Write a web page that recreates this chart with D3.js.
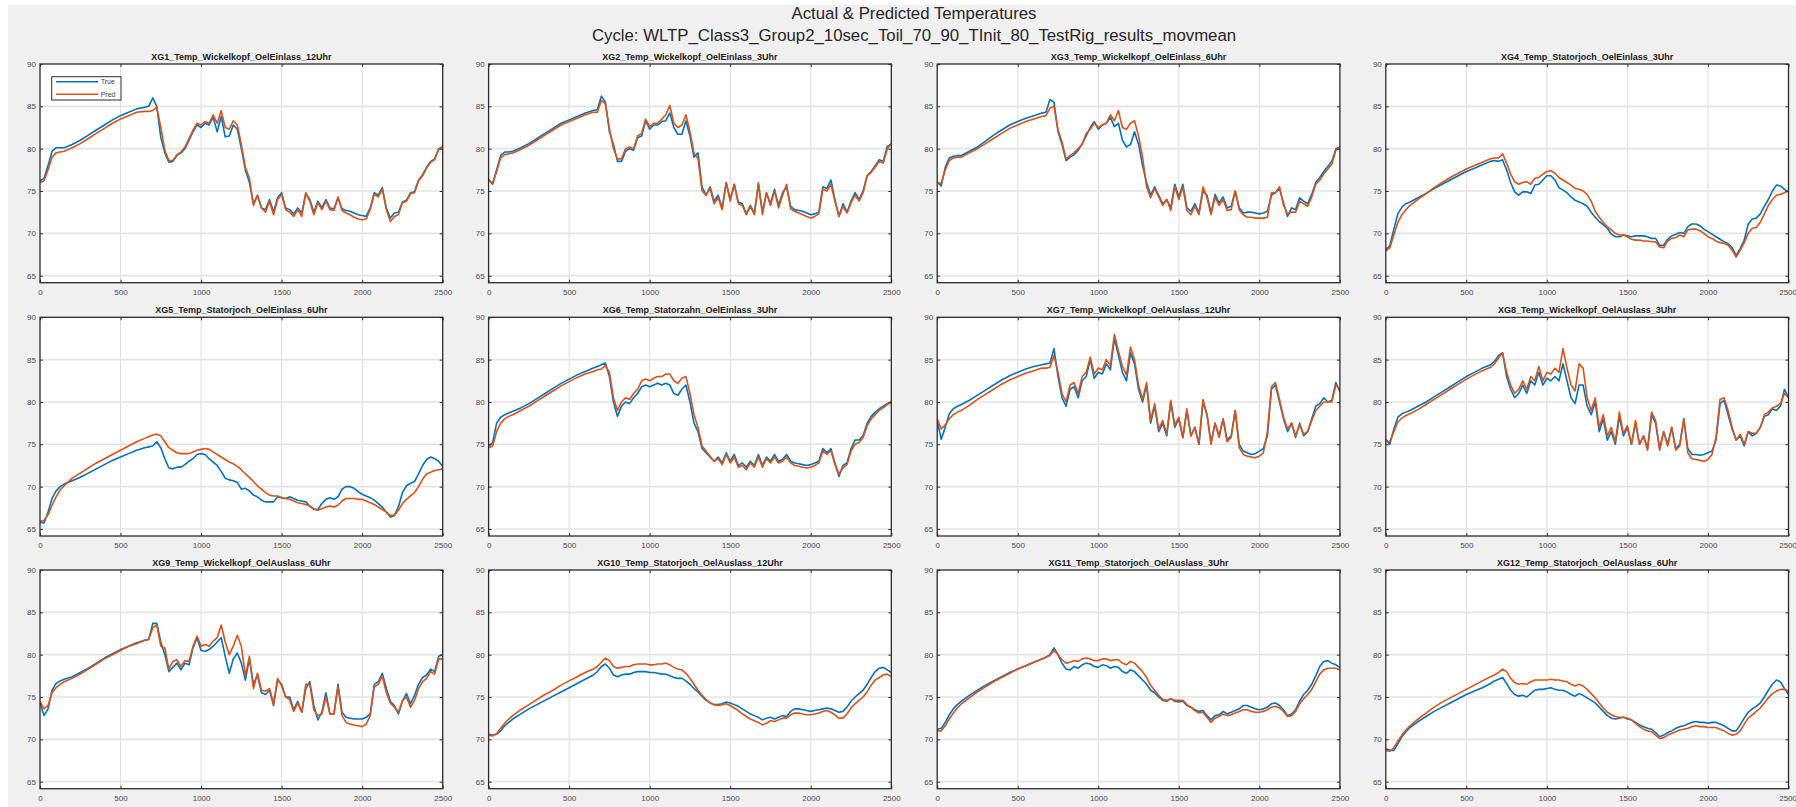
<!DOCTYPE html>
<html>
<head>
<meta charset="utf-8">
<script src="https://cdn.jsdelivr.net/npm/d3@7"></script>
<style>
  body { margin: 0; background: #fff; }
  text { font-family: "Liberation Sans", Arial, Helvetica, sans-serif; }
</style>
</head>
<body>
<div id="fig"></div>
<script>
// figure titles
var figTitle = ["Actual & Predicted Temperatures",
  "Cycle: WLTP_Class3_Group2_10sec_Toil_70_90_TInit_80_TestRig_results_movmean"];

var panelTitles = [
  "XG1_Temp_Wickelkopf_OelEinlass_12Uhr", "XG2_Temp_Wickelkopf_OelEinlass_3Uhr",
  "XG3_Temp_Wickelkopf_OelEinlass_6Uhr", "XG4_Temp_Statorjoch_OelEinlass_3Uhr",
  "XG5_Temp_Statorjoch_OelEinlass_6Uhr", "XG6_Temp_Statorzahn_OelEinlass_3Uhr",
  "XG7_Temp_Wickelkopf_OelAuslass_12Uhr", "XG8_Temp_Wickelkopf_OelAuslass_3Uhr",
  "XG9_Temp_Wickelkopf_OelAuslass_6Uhr", "XG10_Temp_Statorjoch_OelAuslass_12Uhr",
  "XG11_Temp_Statorjoch_OelAuslass_3Uhr", "XG12_Temp_Statorjoch_OelAuslass_6Uhr"];

var seriesNames = ["True", "Pred"];
var xTicks = [0, 500, 1000, 1500, 2000, 2500];
var yTicks = [65, 70, 75, 80, 85, 90];

// sample times (s), shared by all panels
var timeS = [0,25,50,75,100,125,150,
  200,250,300,350,400,450,500,550,600,
  650,675,700,725,750,775,800,825,850,875,900,925,950,975,1000,
  1025,1050,1075,1100,1125,1150,1175,1200,1225,1250,1275,1300,1325,1350,1375,1400,1425,1450,1475,1500,
  1525,1550,1575,1600,1625,1650,1675,1700,1725,1750,1775,1800,1825,1850,1875,1900,1925,1950,1975,2000,
  2025,2050,2075,2100,2125,2150,2175,2200,2225,2250,2275,2300,2325,2350,2375,2400,2425,2450,2475,2500];

// temperatures (degC)
var xg1True = [76.2,76.5,78.0,79.7,80.1,80.1,80.1,
  80.5,81.0,81.6,82.2,82.8,83.4,83.9,84.3,84.7,
  84.9,85.0,86.0,85.0,81.3,79.5,78.4,78.5,79.2,79.5,80.0,81.0,82.0,82.8,82.5,
  83.0,82.8,83.7,82.0,83.8,81.4,81.5,82.8,82.3,80.0,77.5,76.0,73.5,74.5,73.0,72.8,74.0,72.5,74.2,74.8,
  73.0,72.8,72.3,73.0,72.4,74.7,74.0,72.5,73.8,73.0,74.0,73.0,72.9,74.2,72.9,72.7,72.6,72.4,72.2,72.1,
  72.0,73.0,74.8,74.5,75.4,73.0,71.8,72.4,72.5,73.7,73.9,74.8,74.9,76.3,76.9,77.8,78.5,78.8,80.0,80.2];
var xg1Pred = [76.0,76.2,77.5,79.0,79.5,79.6,79.7,
  80.1,80.6,81.2,81.8,82.4,83.0,83.5,83.9,84.3,
  84.4,84.4,84.5,84.9,82.5,79.8,78.6,78.6,79.3,79.6,80.2,81.2,82.2,83.0,82.8,
  83.2,83.0,84.0,83.0,84.5,82.5,82.3,83.3,82.8,80.5,77.8,76.5,73.3,74.5,73.0,72.5,73.8,72.2,74.0,74.6,
  72.8,72.5,72.0,72.8,72.0,74.8,73.8,72.2,73.6,72.8,73.8,72.8,72.7,74.3,72.7,72.4,72.2,71.9,71.7,71.6,
  71.7,72.8,74.6,74.3,75.2,72.8,71.4,72.0,72.2,73.6,73.8,74.7,74.8,76.2,76.8,77.7,78.4,78.7,79.9,80.3];

var xg2True = [76.4,75.8,77.5,79.2,79.6,79.6,79.7,
  80.1,80.6,81.2,81.8,82.4,83.0,83.4,83.8,84.2,
  84.5,84.6,86.2,85.5,82.0,80.5,78.5,78.5,79.7,80.0,79.8,81.3,81.5,83.3,82.3,
  82.8,82.8,83.2,83.3,84.2,82.5,81.7,81.7,83.3,81.5,79.0,79.5,75.5,74.5,75.5,73.8,74.5,73.0,76.0,74.0,
  75.8,73.7,73.5,72.3,73.3,72.4,75.8,72.5,74.8,73.5,75.2,73.3,74.8,75.5,73.2,72.8,72.7,72.6,72.4,72.2,
  72.3,72.5,75.5,75.3,76.3,74.0,72.0,73.5,72.5,73.8,74.8,74.0,75.0,76.8,77.3,78.0,78.7,78.5,80.3,80.5];
var xg2Pred = [76.3,75.9,77.3,78.9,79.3,79.4,79.5,
  79.9,80.4,81.0,81.6,82.2,82.8,83.2,83.6,84.0,
  84.3,84.3,85.7,85.3,82.4,80.0,78.8,78.8,80.0,80.2,80.0,81.5,81.8,83.5,82.6,
  83.0,83.0,83.5,84.0,85.1,83.0,82.5,82.8,84.0,82.0,79.5,78.8,75.0,74.5,75.3,73.5,74.2,72.8,76.0,73.8,
  75.8,73.5,73.3,72.2,73.2,72.2,76.0,72.2,74.8,73.3,75.0,73.0,74.5,75.8,72.9,72.6,72.4,72.2,72.0,71.8,
  72.0,72.3,75.2,75.0,75.8,73.8,72.0,73.2,72.4,73.6,74.5,73.8,74.8,76.8,77.2,77.8,78.5,78.3,80.0,80.6];

var xg3True = [76.1,75.6,77.8,78.9,79.1,79.2,79.2,
  79.7,80.2,80.9,81.6,82.2,82.8,83.2,83.6,83.9,
  84.2,84.3,85.8,85.5,82.0,80.5,78.6,79.0,79.3,79.8,80.6,81.5,82.5,83.2,82.3,
  82.8,83.0,83.7,82.6,83.0,81.0,80.2,80.5,82.0,80.5,78.0,76.0,74.5,75.5,74.5,73.5,74.0,73.0,75.8,74.3,
  75.8,73.0,72.6,73.5,72.4,75.0,74.5,72.4,74.6,73.6,74.3,73.0,73.2,75.0,73.0,72.4,72.5,72.5,72.4,72.3,
  72.4,72.6,74.5,74.8,75.3,73.6,72.0,73.0,72.8,74.2,73.8,73.5,74.6,76.0,76.6,77.3,77.9,78.5,80.0,80.2];
var xg3Pred = [76.0,75.9,77.5,78.6,78.9,79.0,79.0,
  79.5,80.0,80.6,81.2,81.8,82.4,82.8,83.2,83.5,
  83.8,83.9,84.8,85.0,82.2,80.8,78.8,79.2,79.5,80.0,80.5,81.8,82.3,83.0,82.5,
  82.8,83.0,84.0,83.3,84.5,82.5,82.3,83.0,83.3,81.5,79.0,75.5,74.2,75.3,74.3,73.3,74.0,72.7,75.5,74.0,
  75.5,72.7,72.2,73.2,72.2,75.5,74.2,72.2,74.3,73.3,74.0,72.7,72.8,75.0,72.8,72.2,71.9,71.9,71.8,71.8,
  71.8,71.9,74.8,74.8,75.5,73.3,72.3,72.5,72.5,73.8,73.5,73.2,74.3,75.8,76.3,77.0,77.6,78.2,79.8,80.2];

var xg4True = [68.1,68.5,70.5,72.3,73.1,73.5,73.7,
  74.2,74.7,75.3,75.8,76.3,76.8,77.3,77.7,78.1,
  78.5,78.6,78.5,78.7,77.5,76.0,74.9,74.5,74.9,74.9,74.7,75.7,75.8,76.3,76.8,
  76.8,76.3,75.4,75.1,74.8,74.3,73.9,73.7,73.5,73.2,72.5,71.9,71.4,71.0,70.6,69.9,69.6,69.6,69.8,69.7,
  69.6,69.7,69.7,69.7,69.6,69.4,69.4,68.6,68.6,69.3,69.7,69.9,70.1,70.0,70.8,71.1,71.1,70.9,70.5,70.2,
  69.9,69.6,69.3,69.0,68.8,68.3,67.4,68.2,69.2,71.1,71.7,71.8,72.3,73.2,74.0,75.0,75.7,75.6,75.2,74.9];
var xg4Pred = [67.9,68.3,69.8,71.3,72.2,72.8,73.3,
  74.0,74.7,75.4,76.0,76.6,77.1,77.6,78.0,78.4,
  78.8,78.9,78.9,79.4,78.3,77.0,76.1,75.8,76.0,76.1,75.8,76.5,76.6,77.0,77.3,
  77.4,77.1,76.6,76.3,76.0,75.7,75.3,75.2,75.0,74.6,73.8,72.6,71.9,71.3,70.8,70.4,70.0,69.8,69.8,69.6,
  69.3,69.2,69.2,69.1,69.1,69.0,69.0,68.4,68.3,69.1,69.4,69.5,69.8,69.6,70.4,70.5,70.5,70.3,70.0,69.6,
  69.4,69.1,68.9,68.8,68.6,68.0,67.2,68.0,68.9,70.0,70.6,70.7,71.3,72.3,73.3,74.0,74.5,74.6,74.8,75.0];

var xg5True = [65.8,65.7,67.0,68.6,69.5,70.0,70.3,
  70.7,71.1,71.6,72.1,72.6,73.1,73.5,73.9,74.3,
  74.6,74.7,74.8,75.3,74.6,73.3,72.2,72.1,72.3,72.3,72.6,73.0,73.3,73.8,73.9,
  73.8,73.3,72.9,72.5,71.8,71.0,70.8,70.7,70.5,69.7,69.8,69.5,69.0,68.8,68.4,68.2,68.2,68.2,68.8,68.7,
  68.6,68.8,68.6,68.4,68.3,68.2,67.7,67.3,67.3,68.0,68.5,68.7,68.5,68.8,69.7,70.0,70.0,69.8,69.4,69.1,
  68.9,68.7,68.4,68.0,67.6,67.0,66.4,66.6,67.6,69.3,70.1,70.4,70.6,71.5,72.5,73.2,73.5,73.3,73.0,72.4];
var xg5Pred = [65.9,66.0,66.7,67.8,68.8,69.6,70.1,
  71.0,71.6,72.2,72.8,73.3,73.8,74.3,74.8,75.3,
  75.7,75.9,76.1,76.2,76.0,75.3,74.6,74.3,74.0,73.9,73.9,73.9,74.1,74.3,74.4,
  74.5,74.4,74.1,73.8,73.5,73.2,72.9,72.7,72.4,72.0,71.5,71.1,70.6,70.1,69.7,69.3,69.0,68.9,68.9,68.7,
  68.6,68.5,68.3,68.1,68.0,67.9,67.7,67.4,67.2,67.4,67.6,67.7,67.6,67.8,68.3,68.6,68.6,68.6,68.5,68.5,
  68.3,68.1,67.9,67.6,67.3,67.0,66.6,66.6,67.2,68.0,68.5,68.9,69.3,70.0,70.9,71.5,71.7,71.9,72.0,72.1];

var xg6True = [74.8,75.2,77.5,78.2,78.5,78.7,78.9,
  79.3,79.8,80.4,81.0,81.6,82.2,82.7,83.2,83.6,
  84.0,84.2,84.4,84.6,83.0,80.0,78.3,79.5,80.0,79.8,80.5,81.0,81.8,82.0,81.8,
  82.0,82.2,82.0,82.2,82.0,81.0,80.8,81.5,82.0,80.0,77.5,76.5,74.5,74.0,73.5,73.0,73.5,72.8,74.0,73.0,
  73.8,72.5,72.8,72.3,73.0,72.5,73.8,72.5,73.5,73.0,73.8,73.0,73.2,73.8,73.0,72.8,72.7,72.6,72.5,72.6,
  72.8,73.0,74.5,74.0,74.5,72.8,71.2,72.5,72.8,74.5,75.5,75.5,76.0,77.5,78.3,78.8,79.2,79.5,79.8,80.0];
var xg6Pred = [74.6,74.8,76.5,77.5,78.0,78.3,78.5,
  79.0,79.5,80.1,80.7,81.3,81.9,82.4,82.9,83.3,
  83.6,83.8,83.9,84.3,83.5,80.5,79.0,80.0,80.5,80.3,81.0,81.5,82.5,82.7,82.5,
  82.8,83.0,83.0,83.3,83.3,82.5,82.2,82.8,83.0,81.0,78.5,77.0,74.8,74.2,73.6,73.0,73.3,72.6,73.8,72.8,
  73.5,72.3,72.5,72.0,72.8,72.3,73.5,72.3,73.3,72.8,73.5,72.8,73.0,73.5,72.8,72.5,72.4,72.3,72.2,72.3,
  72.5,72.8,74.2,73.8,74.3,72.6,71.5,72.2,72.6,74.2,75.0,75.2,75.8,77.2,78.0,78.5,79.0,79.3,79.7,80.0];

var xg7True = [77.8,75.6,77.0,78.6,79.2,79.5,79.7,
  80.2,80.8,81.4,82.0,82.6,83.1,83.5,83.9,84.2,
  84.4,84.5,84.6,86.3,83.0,80.5,79.5,81.5,81.8,80.5,82.5,83.0,85.0,82.8,83.5,
  83.3,84.5,83.8,87.5,85.5,83.5,82.5,85.8,84.5,81.5,80.0,82.0,77.5,79.5,76.5,77.5,76.0,80.0,77.0,78.0,
  75.8,79.0,76.0,77.0,75.0,80.0,78.5,75.2,77.5,76.0,78.0,75.5,76.0,79.0,75.0,74.2,74.0,73.8,73.9,74.2,
  74.5,76.0,81.5,82.0,80.0,78.0,76.5,77.5,75.8,77.5,76.0,76.5,78.0,79.5,79.8,80.5,80.0,80.2,82.3,81.2];
var xg7Pred = [78.0,76.8,77.3,78.0,78.5,78.8,79.0,
  79.6,80.3,80.9,81.5,82.1,82.6,83.0,83.4,83.7,
  84.0,84.0,84.1,85.5,83.5,81.0,80.0,82.0,82.3,81.0,83.0,83.5,85.3,83.3,84.0,
  83.8,85.0,84.3,88.0,86.0,84.2,83.2,86.5,85.0,82.0,80.3,82.3,77.8,79.8,76.8,77.8,76.2,80.2,77.2,78.2,
  75.8,79.2,76.0,77.0,75.0,80.3,78.5,75.0,77.5,75.8,78.0,75.3,75.8,79.0,74.6,73.8,73.6,73.5,73.4,73.6,
  74.0,76.5,81.8,82.3,80.3,78.2,76.8,77.5,76.0,77.3,76.2,76.5,77.8,79.0,79.5,80.0,80.0,80.0,82.0,81.5];

var xg8True = [75.6,75.0,76.8,78.2,78.6,78.8,79.0,
  79.5,80.0,80.6,81.2,81.8,82.4,83.0,83.5,84.0,
  84.4,84.8,85.5,85.8,83.0,81.5,80.5,81.0,82.0,81.0,82.5,82.0,83.5,82.0,82.8,
  82.5,83.0,82.5,84.5,82.5,80.5,79.8,82.0,82.0,79.5,78.5,80.0,76.5,78.0,75.5,76.5,75.0,78.3,76.0,77.0,
  75.0,77.5,75.0,76.0,74.5,78.5,77.5,74.5,76.5,75.0,77.0,74.5,75.0,78.0,74.5,73.8,73.8,73.7,73.8,74.0,
  74.2,75.5,79.8,80.2,78.5,76.8,75.5,76.0,74.8,76.5,76.0,76.3,77.0,78.3,78.5,79.2,79.0,79.5,81.5,80.5];
var xg8Pred = [75.4,75.3,76.5,77.6,78.1,78.4,78.6,
  79.1,79.7,80.3,80.9,81.5,82.1,82.7,83.2,83.7,
  84.1,84.5,85.2,85.8,83.5,82.0,81.0,81.5,82.5,81.5,83.0,82.5,84.2,82.5,83.5,
  83.3,84.0,83.5,86.3,84.0,82.0,81.3,84.5,84.0,80.5,79.0,80.5,77.0,78.5,76.0,77.0,75.3,78.8,76.3,77.2,
  75.0,77.8,75.0,76.0,74.3,78.8,77.8,74.3,76.5,74.8,77.0,74.3,74.8,78.0,74.0,73.3,73.2,73.1,73.0,73.2,
  73.8,75.8,80.3,80.5,79.0,77.0,75.5,76.2,75.0,76.5,76.3,76.3,77.0,78.5,78.8,79.3,79.5,79.8,81.0,80.5];

var xg9True = [74.3,72.8,73.6,75.8,76.6,76.9,77.1,
  77.4,77.9,78.4,79.0,79.6,80.1,80.6,81.0,81.4,
  81.7,81.8,83.7,83.7,81.5,80.0,78.0,78.5,79.0,78.2,79.0,78.8,80.8,82.0,80.5,
  80.4,80.6,81.0,81.5,82.0,79.8,77.8,79.5,80.2,79.0,77.0,79.5,76.5,77.6,75.5,75.3,75.8,74.0,77.0,76.5,
  75.0,75.0,73.5,74.5,73.2,76.0,76.8,74.0,72.3,73.2,75.5,73.0,73.0,76.5,73.2,72.6,72.5,72.4,72.4,72.4,
  72.6,73.0,76.5,76.8,77.8,76.0,74.5,74.0,73.0,74.5,75.4,74.2,75.2,76.5,77.3,77.6,78.3,78.0,79.8,80.0];
var xg9Pred = [74.5,73.6,74.0,75.5,76.1,76.5,76.8,
  77.2,77.7,78.3,78.9,79.5,80.0,80.5,81.0,81.3,
  81.7,81.8,83.2,83.5,81.0,80.8,78.3,79.2,79.4,78.6,79.3,79.2,81.0,82.2,81.0,
  81.2,81.0,81.6,82.0,83.5,81.5,80.0,81.0,82.3,81.0,77.5,79.8,76.0,77.8,75.8,75.7,76.0,74.2,77.2,76.3,
  75.0,74.7,73.3,74.3,73.2,76.5,76.5,73.5,72.8,73.0,75.0,73.0,73.0,76.2,72.8,72.0,71.8,71.7,71.6,71.5,
  71.8,72.8,76.2,76.5,77.5,75.5,74.3,73.8,73.2,74.6,75.0,73.8,74.6,76.0,76.8,77.2,78.0,77.7,79.5,79.5];

var xg10True = [70.6,70.5,70.6,71.0,71.6,72.0,72.4,
  73.0,73.6,74.1,74.6,75.1,75.6,76.1,76.6,77.1,
  77.6,78.0,78.6,78.9,78.4,77.6,77.4,77.6,77.7,77.7,77.9,78.0,78.0,78.0,77.9,
  77.9,77.8,77.7,77.7,77.5,77.3,77.2,77.2,76.9,76.5,76.0,75.6,75.1,74.6,74.3,74.1,74.1,74.2,74.4,74.3,
  74.1,73.9,73.6,73.3,73.0,72.8,72.6,72.3,72.5,72.6,72.4,72.6,72.8,72.7,73.3,73.6,73.6,73.5,73.4,73.3,
  73.4,73.5,73.6,73.7,73.6,73.4,73.2,73.3,73.8,74.5,75.0,75.4,75.8,76.5,77.3,78.0,78.4,78.5,78.2,77.9];
var xg10Pred = [70.5,70.4,70.7,71.3,71.9,72.4,72.8,
  73.5,74.1,74.7,75.3,75.8,76.4,76.9,77.4,77.9,
  78.3,78.6,79.1,79.6,79.3,78.6,78.4,78.5,78.6,78.6,78.8,78.9,78.9,78.9,78.8,
  78.8,78.9,78.9,79.0,78.8,78.5,78.3,78.2,77.8,77.2,76.5,75.8,75.2,74.7,74.3,74.1,74.0,74.1,74.2,74.0,
  73.7,73.4,73.0,72.7,72.4,72.2,72.0,71.7,71.9,72.2,72.1,72.3,72.5,72.5,72.9,73.1,73.1,73.0,72.9,72.9,
  73.0,73.1,73.3,73.4,73.2,72.9,72.5,72.5,73.0,73.7,74.2,74.6,75.0,75.6,76.4,77.0,77.3,77.6,77.7,77.4];

var xg11True = [71.2,71.3,72.0,72.9,73.6,74.1,74.5,
  75.2,75.8,76.4,76.9,77.4,77.9,78.3,78.7,79.1,
  79.5,79.7,80.0,80.8,80.0,79.0,78.3,78.2,78.6,78.4,78.8,79.0,78.9,78.6,78.5,
  78.8,78.7,78.4,78.6,78.5,78.0,77.8,78.2,78.0,77.5,77.0,76.5,75.8,75.5,75.0,74.6,74.5,74.8,74.5,74.4,
  74.5,74.0,73.8,73.5,73.3,73.4,72.8,72.3,72.8,72.9,73.3,73.0,73.2,73.4,73.6,74.0,74.0,73.8,73.6,73.5,
  73.6,73.8,74.2,74.3,74.0,73.5,72.8,73.0,73.5,74.5,75.3,75.8,76.5,77.5,78.6,79.2,79.3,79.0,78.8,78.5];
var xg11Pred = [71.0,71.0,71.6,72.4,73.1,73.7,74.2,
  74.9,75.6,76.2,76.8,77.3,77.8,78.3,78.7,79.1,
  79.5,79.7,79.9,80.5,80.0,79.4,79.0,79.1,79.3,79.2,79.5,79.6,79.5,79.3,79.3,
  79.5,79.5,79.3,79.4,79.4,79.0,78.8,79.2,79.0,78.5,78.0,77.3,76.4,75.8,75.2,74.7,74.6,74.8,74.6,74.6,
  74.6,74.1,73.8,73.4,73.1,73.2,72.6,72.0,72.5,72.7,73.0,72.8,72.9,73.1,73.3,73.5,73.5,73.3,73.2,73.2,
  73.3,73.5,73.8,73.9,73.7,73.3,72.7,72.8,73.3,74.2,74.8,75.3,75.9,76.8,77.7,78.2,78.4,78.4,78.4,78.2];

var xg12True = [68.9,68.7,68.7,69.5,70.3,70.9,71.4,
  72.1,72.7,73.3,73.8,74.3,74.8,75.3,75.7,76.1,
  76.6,76.9,77.1,77.3,76.6,75.8,75.3,75.1,75.2,75.0,75.4,75.8,75.9,75.9,76.0,
  76.1,75.9,75.8,75.8,75.6,75.3,75.1,75.4,75.2,74.9,74.6,74.3,73.8,73.3,72.8,72.5,72.4,72.5,72.6,72.4,
  72.3,72.0,71.7,71.5,71.3,71.2,70.8,70.3,70.5,70.8,71.0,71.3,71.5,71.6,71.8,72.0,72.1,72.0,72.0,71.9,
  72.0,72.0,71.8,71.6,71.3,71.0,71.0,71.7,72.5,73.2,73.6,73.9,74.3,75.0,75.8,76.5,77.0,76.8,76.0,75.3];
var xg12Pred = [68.7,68.6,69.0,69.8,70.5,71.1,71.6,
  72.4,73.1,73.8,74.4,74.9,75.4,75.9,76.4,76.9,
  77.4,77.6,77.9,78.3,78.0,77.2,76.7,76.5,76.6,76.5,76.8,77.0,77.0,77.0,77.0,
  77.1,77.0,77.0,76.9,76.8,76.5,76.3,76.5,76.3,75.9,75.4,74.9,74.3,73.7,73.2,72.9,72.7,72.6,72.6,72.5,
  72.3,71.9,71.5,71.2,71.0,70.9,70.5,70.1,70.2,70.5,70.7,70.9,71.1,71.2,71.3,71.5,71.6,71.5,71.5,71.4,
  71.4,71.4,71.2,71.0,70.7,70.5,70.6,71.0,71.8,72.5,72.9,73.3,73.7,74.3,74.9,75.4,75.7,75.9,75.9,75.7];

var panels = [
  [xg1True, xg1Pred], [xg2True, xg2Pred], [xg3True, xg3Pred], [xg4True, xg4Pred],
  [xg5True, xg5Pred], [xg6True, xg6Pred], [xg7True, xg7Pred], [xg8True, xg8Pred],
  [xg9True, xg9Pred], [xg10True, xg10Pred], [xg11True, xg11Pred], [xg12True, xg12Pred]];

var colors = ["#0072BD", "#D95319"];

// layout of the 3x4 grid (px)
var W = 1796, H = 807;
var colX = [40, 488.6, 937.2, 1385.8],
    rowY = [64, 317.3, 570],
    pw = 402.7, ph = 218.7;

var svg = d3.select("#fig")
  .append("svg")
    .attr("width", W)
    .attr("height", H);

svg.append("rect").attr("width", W).attr("height", H).attr("fill", "#ffffff");
svg.append("rect")
  .attr("x", 8).attr("y", 5)
  .attr("width", W - 8).attr("height", H - 5)
  .attr("fill", "#f0f0f0");

// super title
svg.append("text")
  .attr("x", 914).attr("y", 19.3)
  .attr("text-anchor", "middle")
  .style("font-size", "16.8px")
  .attr("fill", "#262626")
  .text(figTitle[0]);
svg.append("text")
  .attr("x", 914).attr("y", 41)
  .attr("text-anchor", "middle")
  .style("font-size", "16.8px")
  .attr("fill", "#262626")
  .text(figTitle[1]);

var x = d3.scaleLinear().domain([0, 2500]).range([0, pw]);
var y = d3.scaleLinear().domain([64.17, 90]).range([ph, 0]);

panels.forEach(function(p, i) {
  var g = svg.append("g")
    .attr("transform", "translate(" + colX[i % 4] + "," + rowY[Math.floor(i / 4)] + ")");

  g.append("rect").attr("width", pw).attr("height", ph).attr("fill", "#ffffff");

  // grid
  g.selectAll(".gx").data(xTicks.slice(1, -1)).enter().append("line")
    .attr("x1", function(d) { return x(d); }).attr("x2", function(d) { return x(d); })
    .attr("y1", 0).attr("y2", ph)
    .attr("stroke", "#dcdcdc").attr("stroke-width", 1);
  g.selectAll(".gy").data(yTicks.slice(0, -1)).enter().append("line")
    .attr("x1", 0).attr("x2", pw)
    .attr("y1", function(d) { return y(d); }).attr("y2", function(d) { return y(d); })
    .attr("stroke", "#e4e4e4").attr("stroke-width", 1.6);

  g.append("clipPath").attr("id", "clip" + i)
    .append("rect").attr("width", pw).attr("height", ph);

  // True first, Pred on top
  p.forEach(function(vals, k) {
    g.append("path")
      .datum(vals)
      .attr("clip-path", "url(#clip" + i + ")")
      .attr("fill", "none")
      .attr("stroke", colors[k])
      .attr("stroke-width", 1.6)
      .attr("stroke-linejoin", "round")
      .attr("d", d3.line()
        .x(function(d, j) { return x(timeS[j]); })
        .y(function(d) { return y(d); }));
  });

  // axes, ticks pointing inward
  var ax = [
    g.append("g").attr("transform", "translate(0," + ph + ")")
      .call(d3.axisBottom(x).tickValues(xTicks).tickFormat(d3.format("d"))
        .tickSizeInner(-3).tickSizeOuter(0).tickPadding(6.8)),
    g.append("g")
      .call(d3.axisLeft(y).tickValues(yTicks).tickSizeInner(-3).tickSizeOuter(0).tickPadding(4)),
    g.append("g")
      .call(d3.axisTop(x).tickValues(xTicks).tickSizeInner(-3).tickSizeOuter(0).tickFormat("")),
    g.append("g").attr("transform", "translate(" + pw + ",0)")
      .call(d3.axisRight(y).tickValues(yTicks).tickSizeInner(-3).tickSizeOuter(0).tickFormat(""))
  ];
  ax.forEach(function(a) {
    a.select(".domain").remove();
    a.selectAll("line").attr("stroke", "#333");
    a.selectAll("text")
      .style("font-size", "8px")
      .style("font-family", "'Liberation Sans', Arial, sans-serif")
      .attr("fill", "#4a4a4a");
  });
  // last column: keep the 2500 label inside the window
  if (i % 4 === 3) {
    ax[0].selectAll(".tick text")
      .filter(function(d) { return d === 2500; })
      .attr("text-anchor", "end")
      .attr("x", 8);
  }

  g.append("rect")
    .attr("width", pw).attr("height", ph)
    .attr("fill", "none")
    .attr("stroke", "#2b2b2b")
    .attr("stroke-width", 1.3);

  g.append("text")
    .attr("x", pw / 2).attr("y", -4.5)
    .attr("text-anchor", "middle")
    .style("font-size", "9px")
    .style("font-weight", "bold")
    .attr("fill", "#1a1a1a")
    .text(panelTitles[i]);

  // legend only on the first panel
  if (i === 0) {
    var lg = g.append("g").attr("transform", "translate(11.7,12.7)");
    lg.append("rect")
      .attr("width", 69.3).attr("height", 23.3)
      .attr("fill", "#ffffff")
      .attr("stroke", "#2b2b2b").attr("stroke-width", 1);
    seriesNames.forEach(function(name, k) {
      lg.append("line")
        .attr("x1", 4.3).attr("x2", 46.6)
        .attr("y1", 5 + k * 12.6).attr("y2", 5 + k * 12.6)
        .attr("stroke", colors[k]).attr("stroke-width", 1.4);
      lg.append("text")
        .attr("x", 49).attr("y", 5 + k * 12.6 + 2.5)
        .style("font-size", "7px")
        .attr("fill", "#404040")
        .text(name);
    });
  }
});
</script>
</body>
</html>
